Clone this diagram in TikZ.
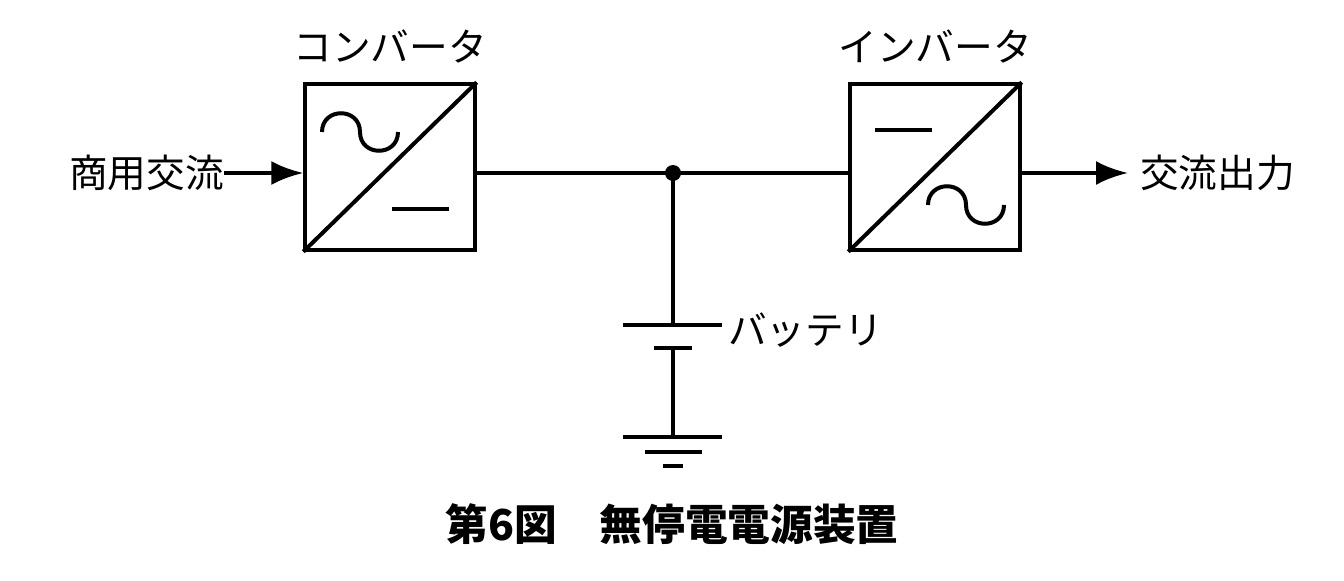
\documentclass[tikz,border=0pt]{standalone}
\usepackage{fontspec}
\newfontfamily\jpfont{Noto Sans CJK JP}
\usetikzlibrary{positioning,arrows.meta}
\begin{document}
\begin{tikzpicture}[
	x=0.75pt, y=-0.75pt,
	wire/.style={line width=3pt},
	box/.style={draw, rectangle, line width=3pt, minimum width=127pt, minimum height=124pt, inner sep=0pt},
	label/.style={font=\jpfont\fontsize{29}{30}\selectfont, inner sep=0pt},
	arrow/.style={line width=3pt, -{Latex[length=24pt,width=18pt]}},
	>=stealth
	]
	\useasboundingbox (0,0) rectangle (1344,581);
	
	%-----------------------
	% Converter and inverter
	%-----------------------
	\node[box] (conv) at (390,167) {};
	\node[box] (inv) at (935,167) {};
	\draw[wire] (conv.south west) -- (conv.north east);
	\draw[wire] (inv.south west) -- (inv.north east);
	% symbols inside
	\draw[wire] (322,132) .. controls (322,107) and (360,107) .. (360,132)
		.. controls (360,157) and (398,157) .. (398,132);
	\draw[wire] (392,209) -- (449,209);
	\draw[wire] (875,130) -- (932,130);
	\draw[wire] (928,205) .. controls (928,180) and (966,180) .. (966,205)
		.. controls (966,230) and (1004,230) .. (1004,205);
	\node[label, above=14pt of conv] (convlbl) {コンバータ};
	\node[label, above=14pt of inv] (invlbl) {インバータ};
	
	%-----------------------
	% Input and output
	%-----------------------
	\node[label, anchor=east] (in) at (224,173) {商用交流};
	\node[label, anchor=west] (out) at (1140,173) {交流出力};
	\coordinate (outend) at (1128,173);
	\draw[arrow] (in.east) -- (conv.west |- in.east);
	\draw[arrow] (inv.east |- outend) -- (outend);
	
	%-----------------------
	% DC bus and battery
	%-----------------------
	\coordinate (J) at (673,173);
	\coordinate (plus) at (673,325);
	\coordinate (minus) at (673,348);
	\coordinate (gnd) at (673,437);
	\draw[wire] (conv.east |- J) -- (inv.west |- J);
	\fill (J) circle (6pt);
	\draw[wire] (J) -- (plus);
	\draw[wire] (623,325) -- (722,325);
	\draw[wire] (654,348) -- (692,348);
	\draw[wire] (minus) -- (gnd);
	\draw[wire] (623,437) -- (722,437);
	\draw[wire] (645,452) -- (702,452);
	\draw[wire] (663,466) -- (683,466);
	\node[label, anchor=west] (bat) at (728,330) {バッテリ};
	
	% caption
	\node[font=\jpfont\bfseries\fontsize{32}{34}\selectfont, inner sep=0pt] (cap) at (672,524) {第6図　無停電電源装置};
\end{tikzpicture}
\end{document}
